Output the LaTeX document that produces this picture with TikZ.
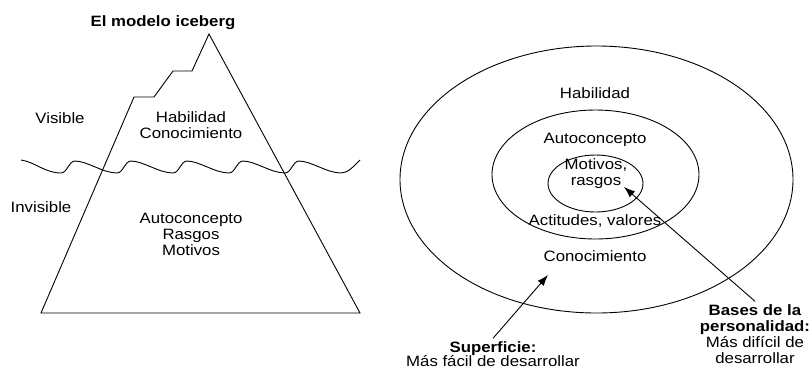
\documentclass[tikz,border=0pt]{standalone}
\usepackage{fontspec}
\setmainfont{Liberation Sans}[FakeStretch=1.12]
\usetikzlibrary{arrows.meta}
\tikzset{
  lbl/.style={inner sep=0pt, align=center, font=\fontsize{15}{16}\selectfont},
  ttl/.style={lbl, font=\fontsize{15}{16}\selectfont\bfseries},
  ln/.style={line width=0.9pt, black},
  arr/.style={ln, -{Latex[length=11pt,width=8pt]}},
}
\begin{document}
\begin{tikzpicture}[x=1pt,y=-1pt]
\useasboundingbox (0,0) rectangle (811,368);
% ---------- iceberg ----------
\coordinate (bl) at (41,313);
\coordinate (s1) at (134,97);
\coordinate (s2) at (154,97);
\coordinate (s3) at (173,71);
\coordinate (s4) at (192,71);
\coordinate (pk) at (209,34);
\coordinate (br) at (360,313);
\draw[ln, line join=miter] (bl) -- (s1) -- (s2) -- (s3) -- (s4) -- (pk) -- (br) -- cycle;
% water line
\draw[ln] (21,160) .. controls (35,162) and (45,173) .. (61,173)
  .. controls (67,173) and (69,161) .. (75,161)
  .. controls (87,161) and (103,173) .. (117,173)
  .. controls (123,173) and (125,161) .. (131,161)
  .. controls (143,161) and (159,173) .. (173,173)
  .. controls (179,173) and (181,161) .. (187,161)
  .. controls (199,161) and (215,173) .. (229,173)
  .. controls (235,173) and (237,161) .. (243,161)
  .. controls (255,161) and (271,173) .. (285,173)
  .. controls (291,173) and (293,161) .. (299,161)
  .. controls (311,161) and (327,173) .. (341,173)
  .. controls (348,173) and (354,166) .. (360,160);
\node[ttl, anchor=base] (title) at (163,26) {El modelo iceberg};
\node[lbl, anchor=base] (vis) at (60,123) {Visible};
\node[lbl, anchor=base] (invis) at (41,212) {Invisible};
\node[lbl] (top) at (191,125.5) {Habilidad\\Conocimiento};
\node[lbl] (bottom) at (191,234.5) {Autoconcepto\\Rasgos\\Motivos};
% ---------- circles ----------
\draw[ln] (596.5,179.5) ellipse [x radius=196.5pt, y radius=133.5pt];
\draw[ln] (595.5,174.5) ellipse [x radius=103.5pt, y radius=64.5pt];
\draw[ln] (595.5,183.5) ellipse [x radius=47.5pt, y radius=28.5pt];
\node[lbl, anchor=base] (hab) at (595,98) {Habilidad};
\node[lbl, anchor=base] (auto) at (595,143) {Autoconcepto};
\node[lbl] (mot) at (596,173.5) {Motivos,\\rasgos};
\node[lbl, anchor=base] (act) at (595,225) {Actitudes, valores};
\node[lbl, anchor=base] (con) at (595,261) {Conocimiento};
\node[lbl] (sup) at (493,354) {\textbf{Superficie:}\\[-2pt]Más fácil de desarrollar};
\node[lbl] (bases) at (755,334) {\textbf{Bases de la}\\\textbf{personalidad:}\\Más difícil de\\desarrollar};
\coordinate (supTip) at (548,275);
\coordinate (basTip) at (624,187);
\draw[arr] (sup.north) ++(0,-3) -- (supTip);
\draw[arr] (bases.north) ++(0,-3) -- (basTip);
\end{tikzpicture}
\end{document}
